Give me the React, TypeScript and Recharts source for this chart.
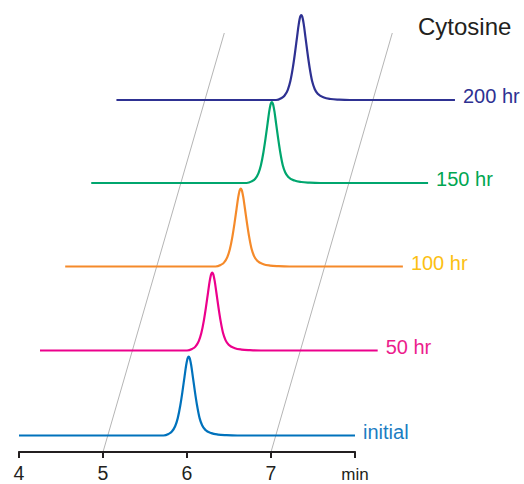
import React from 'react';
import { ComposedChart, Line, XAxis, YAxis, ReferenceLine, ReferenceDot } from 'recharts';

// Traces (retention time in min, signal in arbitrary stacked units)
const traceLabels = ['initial', '50 hr', '100 hr', '150 hr', '200 hr'];
const traceStart = [4.0, 4.25, 4.55, 4.86, 5.16];
const traceEnd = [8.0, 8.27, 8.57, 8.87, 9.19];
const peakTime = [6.02, 6.3, 6.64, 7.01, 7.36];
const baselineLevel = [16.5, 101.5, 185.5, 269, 352];
const peakHeight = [79, 78, 78, 81, 85];
const lineColors = ['#0072bc', '#ec008c', '#f58a2a', '#00a66e', '#2e3192'];
const labelColors = ['#1b7dc2', '#ec1c8c', '#fcc012', '#00a651', '#2e3192'];

// Peak profile: offset from apex (min), relative height
const profileDt = [-0.3, -0.24, -0.2, -0.16, -0.13, -0.1, -0.075, -0.05, -0.03, -0.012, 0, 0.012, 0.03, 0.05, 0.075, 0.1, 0.13, 0.16, 0.2, 0.27, 0.35, 0.45, 0.58];
const profileRel = [0, 0.02, 0.05, 0.12, 0.22, 0.38, 0.55, 0.74, 0.89, 0.98, 1, 0.98, 0.89, 0.74, 0.55, 0.38, 0.22, 0.13, 0.07, 0.03, 0.012, 0.004, 0];

// Axis
const xTicks = [4, 5, 6, 7, 8];
const guideBottom = [5, 7];
const guideTop = [6.444, 8.444];
const guideTopLevel = 419;
const title = 'Cytosine';

const FONT = '"Liberation Sans", Arial, Helvetica, sans-serif';

const buildTrace = (i: number) => {
  const pts = [{ t: traceStart[i], v: baselineLevel[i] }];
  profileDt.forEach((dt, k) => {
    pts.push({ t: peakTime[i] + dt, v: baselineLevel[i] + peakHeight[i] * profileRel[k] });
  });
  pts.push({ t: traceEnd[i], v: baselineLevel[i] });
  return pts;
};

const traces = traceLabels.map((_, i) => buildTrace(i));

const Tick = (props: any) => {
  const { x, y, payload } = props;
  const isMin = payload.value === 8;
  return (
    <text
      x={x}
      y={y + 20}
      textAnchor="middle"
      fontFamily={FONT}
      fontSize={isMin ? 17 : 19.5}
      fill="#231f20"
    >
      {isMin ? 'min' : payload.value}
    </text>
  );
};

const makeLabel = (i: number) => (props: any) => {
  const vb = props.viewBox || {};
  const cx = (vb.x ?? 0) + (vb.width ?? 0) / 2;
  const cy = (vb.y ?? 0) + (vb.height ?? 0) / 2;
  return (
    <text x={cx + 8} y={cy + 3} fontFamily={FONT} fontSize={20} fill={labelColors[i]}>
      {traceLabels[i]}
    </text>
  );
};

export default function App() {
  return (
    <div style={{ position: 'absolute', left: 0, top: 0, background: '#fff' }}>
      <ComposedChart width={524} height={484} margin={{ top: 0, right: 1, bottom: 2, left: 19 }}>
        <XAxis
          dataKey="t"
          type="number"
          domain={[4, 10]}
          ticks={xTicks}
          interval={0}
          axisLine={false}
          tickLine={{ stroke: '#231f20', strokeWidth: 2 }}
          tickSize={6}
          height={30}
          tick={<Tick />}
          allowDuplicatedCategory={false}
        />
        <YAxis hide type="number" domain={[0, 452]} />
        {guideBottom.map((b, k) => (
          <ReferenceLine
            key={'g' + k}
            segment={[{ x: b, y: 0 }, { x: guideTop[k], y: guideTopLevel }]}
            stroke="#b5b5b5"
            strokeWidth={1}
            ifOverflow="visible"
          />
        ))}
        <ReferenceLine
          segment={[{ x: 3.99, y: 0 }, { x: 8.01, y: 0 }]}
          stroke="#231f20"
          strokeWidth={2}
          ifOverflow="visible"
        />
        {traces.map((d, i) => (
          <Line
            key={traceLabels[i]}
            data={d}
            dataKey="v"
            type="monotone"
            stroke={lineColors[i]}
            strokeWidth={2.2}
            dot={false}
            activeDot={false}
            isAnimationActive={false}
          />
        ))}
        {traceLabels.map((lab, i) => (
          <ReferenceDot
            key={'l' + lab}
            x={traceEnd[i]}
            y={baselineLevel[i]}
            r={1}
            fill="none"
            stroke="none"
            ifOverflow="visible"
            label={makeLabel(i)}
          />
        ))}
        <text x={418} y={34.5} fontFamily={FONT} fontSize={24} fill="#231f20">
          {title}
        </text>
      </ComposedChart>
    </div>
  );
}
